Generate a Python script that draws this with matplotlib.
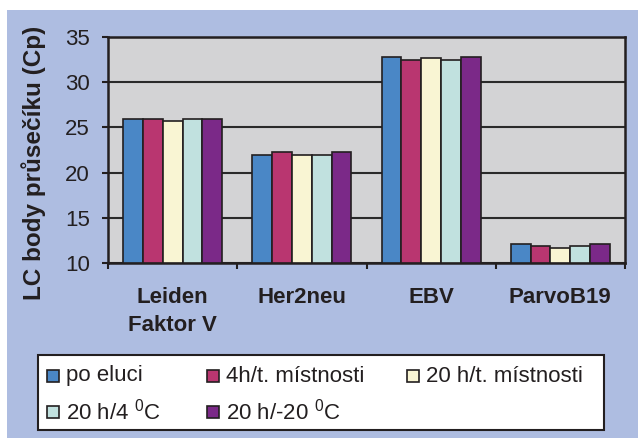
import matplotlib
matplotlib.use("Agg")
import matplotlib.pyplot as plt
from matplotlib.patches import Rectangle
import numpy as np

plt.rcParams["font.family"] = ["Liberation Sans", "DejaVu Sans"]
plt.rcParams["mathtext.fontset"] = "custom"
plt.rcParams["mathtext.rm"] = "Liberation Sans"

# Data
kategorie = ["Leiden\nFaktor V", "Her2neu", "EBV", "ParvoB19"]
serie = ["po eluci", "4h/t. místnosti", "20 h/t. místnosti",
         "20 h/4 $^0$C", "20 h/-20 $^0$C"]
po_eluci = [25.9, 22.0, 32.8, 12.1]
h4_mistnost = [25.9, 22.3, 32.5, 11.9]
h20_mistnost = [25.7, 22.0, 32.7, 11.7]
h20_4c = [25.9, 22.0, 32.5, 11.9]
h20_minus20c = [25.9, 22.3, 32.8, 12.1]
hodnoty = [po_eluci, h4_mistnost, h20_mistnost, h20_4c, h20_minus20c]
barvy = ["#4a87c6", "#b93670", "#f9f5d3", "#c1e1df", "#7b2988"]

fig = plt.figure(figsize=(6.38, 4.38), dpi=100)
fig.patch.set_facecolor("white")
# modre pozadi za vsim
fig.patches.append(Rectangle((7 / 638, 0), 631 / 638, 428 / 438,
                             transform=fig.transFigure, facecolor="#aebde1",
                             edgecolor="none", zorder=-10))

ax = fig.add_axes([108 / 638, 1 - 263 / 438, 517 / 638, 226 / 438])
ax.set_facecolor("#d3d3d5")

x = np.arange(len(kategorie))
sirka = 0.153
for i, (vals, barva) in enumerate(zip(hodnoty, barvy)):
    ax.bar(x + (i - 2) * sirka, np.array(vals) - 10, bottom=10, width=sirka,
           color=barva, edgecolor="#231f20", linewidth=1.2, zorder=3)

ax.set_xlim(-0.5, len(kategorie) - 0.5)
ax.set_ylim(10, 35)
ax.set_yticks([10, 15, 20, 25, 30, 35])
ax.yaxis.grid(True, color="#2a2a2a", linewidth=1.5, zorder=1)
ax.set_axisbelow(True)
ax.tick_params(axis="y", labelsize=16, length=4.5, width=1.5, color="#231f20",
               pad=8.5, labelcolor="#231f20")

ax.set_xticks(x)
ax.set_xticklabels(kategorie, fontsize=16, fontweight="bold", color="#231f20",
                   linespacing=1.45)
ax.tick_params(axis="x", length=0, pad=17)
ax.set_xticks(np.arange(len(kategorie) + 1) - 0.5, minor=True)
ax.tick_params(axis="x", which="minor", length=4, width=1.5, color="#231f20")

for s in ax.spines.values():
    s.set_color("#231f20")
    s.set_linewidth(1.8)

fig.text(34 / 638, 1 - 163 / 438, "LC body průsečíku (Cp)", rotation=90,
         ha="center", va="center", fontsize=17.5, fontweight="bold",
         color="#231f20")

# legenda rucne, aby sedely rozestupy jako v originale
fig.patches.append(Rectangle((38 / 638, 1 - 430 / 438), 566 / 638, 75 / 438,
                             transform=fig.transFigure, facecolor="white",
                             edgecolor="#231f20", linewidth=1.5, zorder=5))
leg_x = [47, 207, 407, 47, 207]
leg_y = [376, 376, 376, 412, 412]
for nazev, barva, lx, ly in zip(serie, barvy, leg_x, leg_y):
    fig.patches.append(Rectangle((lx / 638, 1 - (ly + 6) / 438), 12 / 638, 12 / 438,
                                 transform=fig.transFigure, facecolor=barva,
                                 edgecolor="#231f20", linewidth=1.2, zorder=6))
    fig.text((lx + 19) / 638, 1 - ly / 438, nazev, ha="left", va="center",
             fontsize=16, color="#231f20", zorder=7)

fig.savefig("out.png", dpi=100)
